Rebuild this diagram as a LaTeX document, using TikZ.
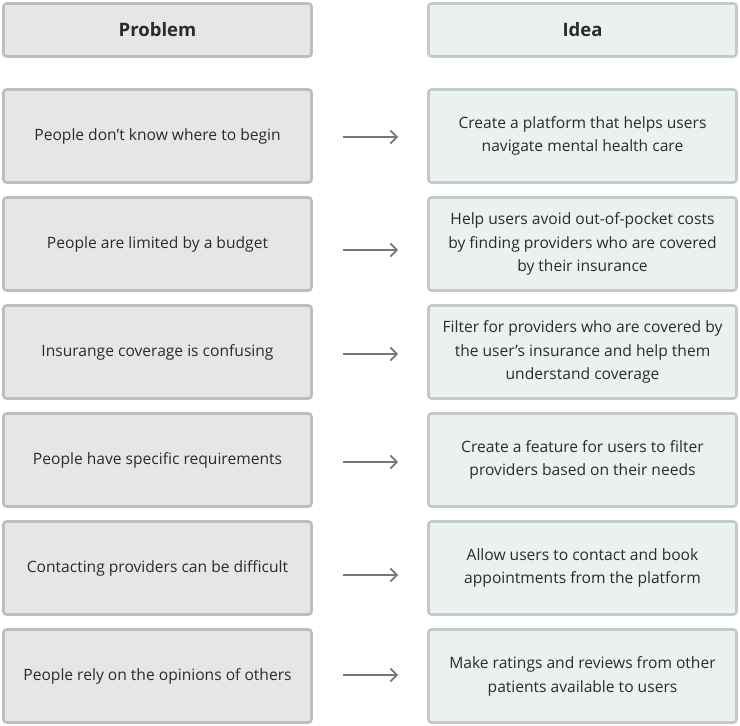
\documentclass[tikz,border=0pt]{standalone}
\usepackage{fontspec}
\setmainfont{Open Sans}
\usetikzlibrary{arrows.meta}
\definecolor{probfill}{HTML}{E6E6E6}
\definecolor{probline}{HTML}{BEBEBE}
\definecolor{ideafill}{HTML}{EAF1F0}
\definecolor{idealine}{HTML}{C3CBCA}
\definecolor{txt}{HTML}{2B2B2B}
\definecolor{arr}{HTML}{777777}
\tikzset{
  x=1pt, y=-1pt,
  cell/.style={rounded corners=3pt, line width=2.6pt, minimum width=308pt,
    inner sep=0pt, align=center, text=txt, font=\fontsize{15.6}{23.8}\selectfont},
  probbox/.style={cell, draw=probline, fill=probfill, minimum height=93pt},
  ideabox/.style={cell, draw=idealine, fill=ideafill, minimum height=93pt},
  probhead/.style={probbox, minimum height=53pt, font=\fontsize{18.5}{22}\selectfont\bfseries},
  ideahead/.style={ideabox, minimum height=53pt, font=\fontsize{18.5}{22}\selectfont\bfseries},
  link/.style={draw=arr, line width=1.8pt, -{Straight Barb[length=6.5pt, width=13pt, line width=1.8pt]}},
}
\begin{document}
\begin{tikzpicture}
\useasboundingbox (0,0) rectangle (740,726);
\node[probhead] (ph) at (157.5,30) {Problem};
\node[ideahead] (ih) at (582.5,30) {Idea};

\node[probbox] (p1) at (157.5,136) {People don’t know where to begin};
\node[ideabox] (i1) at (582.5,136) {Create a platform that helps users\\navigate mental health care};
\node[probbox] (p2) at (157.5,244) {People are limited by a budget};
\node[ideabox] (i2) at (582.5,244) {Help users avoid out-of-pocket costs\\by finding providers who are covered\\by their insurance};
\node[probbox] (p3) at (157.5,352) {Insurange coverage is confusing};
\node[ideabox] (i3) at (582.5,352) {Filter for providers who are covered by\\the user’s insurance and help them\\understand coverage};
\node[probbox] (p4) at (157.5,460) {People have specific requirements};
\node[ideabox] (i4) at (582.5,460) {Create a feature for users to filter\\providers based on their needs};
\node[probbox] (p5) at (157.5,568) {Contacting providers can be difficult};
\node[ideabox] (i5) at (582.5,568) {Allow users to contact and book\\appointments from the platform};
\node[probbox] (p6) at (157.5,676) {People rely on the opinions of others};
\node[ideabox] (i6) at (582.5,676) {Make ratings and reviews from other\\patients available to users};

\draw[link] ([xshift=30pt,yshift=-1pt]p1.east) -- ([xshift=-29pt,yshift=-1pt]i1.west);
\draw[link] ([xshift=30pt,yshift=-6pt]p2.east) -- ([xshift=-29pt,yshift=-6pt]i2.west);
\draw[link] ([xshift=30pt,yshift=-2pt]p3.east) -- ([xshift=-29pt,yshift=-2pt]i3.west);
\draw[link] ([xshift=30pt,yshift=-2pt]p4.east) -- ([xshift=-29pt,yshift=-2pt]i4.west);
\draw[link] ([xshift=30pt,yshift=-7pt]p5.east) -- ([xshift=-29pt,yshift=-7pt]i5.west);
\draw[link] ([xshift=30pt,yshift=1pt]p6.east) -- ([xshift=-29pt,yshift=1pt]i6.west);
\end{tikzpicture}
\end{document}
